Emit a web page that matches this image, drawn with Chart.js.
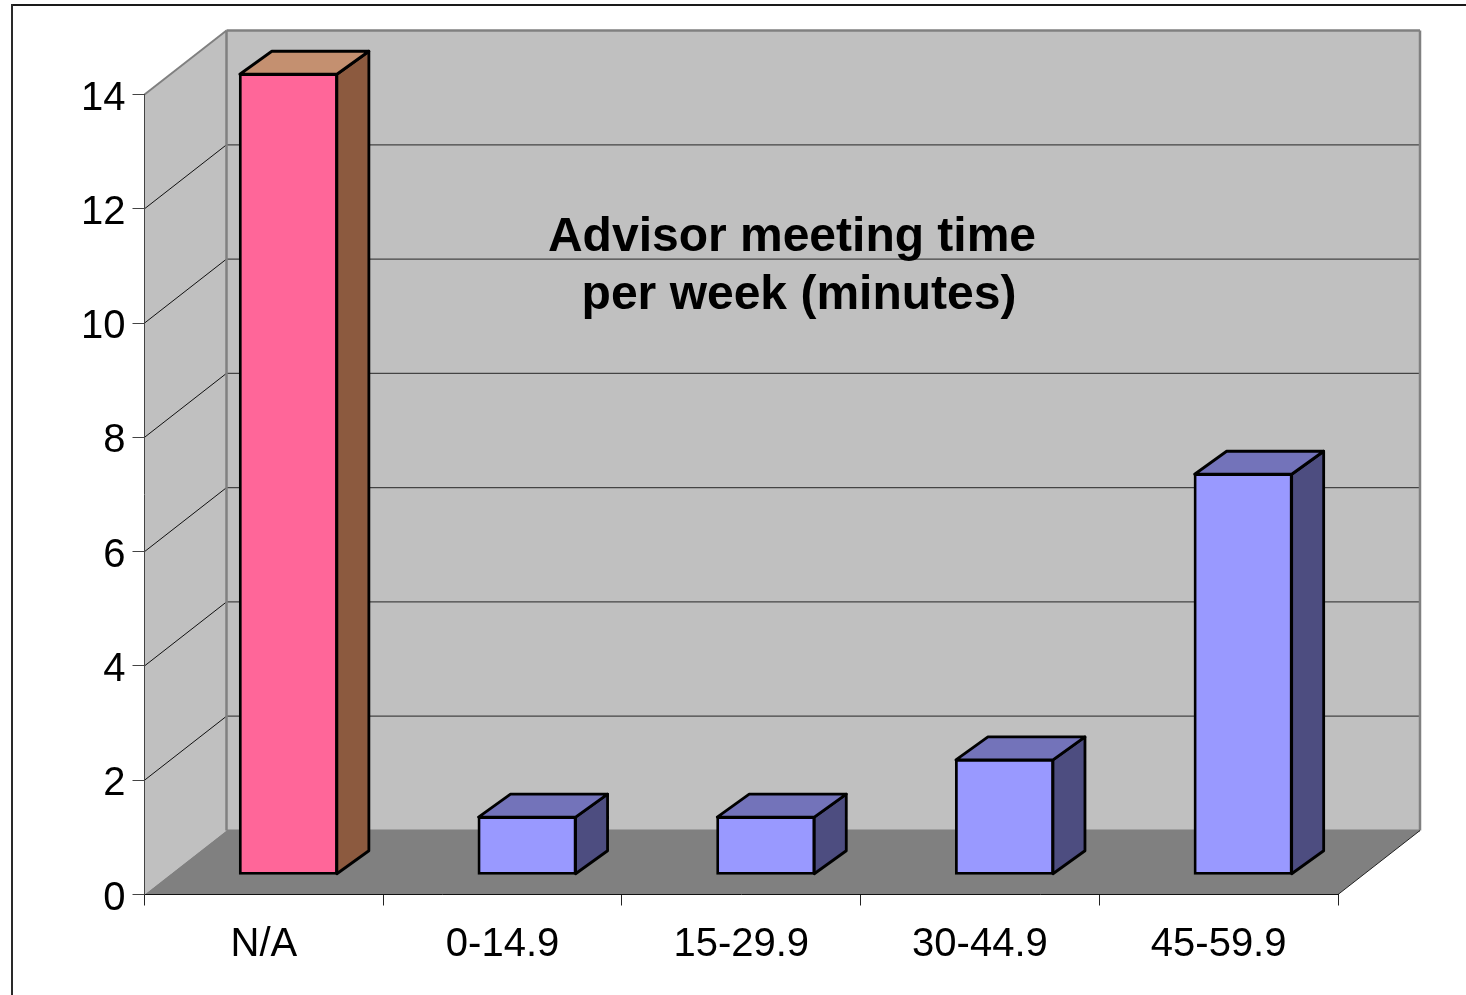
<!DOCTYPE html>
<html>
<head>
<meta charset="utf-8">
<title>Advisor meeting time per week (minutes)</title>
<style>
html,body{margin:0;padding:0;background:#fff;overflow:hidden}
canvas{display:block}
</style>
<script src="https://cdn.jsdelivr.net/npm/chart.js@4/dist/chart.umd.min.js"></script>
</head>
<body>
<canvas id="c" width="1466" height="995"></canvas>
<script>
const categories = ['N/A', '0-14.9', '15-29.9', '30-44.9', '45-59.9'];
const meetings = [14, 1, 1, 2, 7];
const yTicks = [0, 2, 4, 6, 8, 10, 12, 14];
const titleLines = ['Advisor meeting time', 'per week (minutes)'];

const frontColors = ['#FF6699', '#9999FF', '#9999FF', '#9999FF', '#9999FF'];
const sideColors  = ['#8C5A3F', '#4D4D80', '#4D4D80', '#4D4D80', '#4D4D80'];
const topColors   = ['#C49070', '#7373BA', '#7373BA', '#7373BA', '#7373BA'];

const WALL_DX = 82, WALL_DY = -64;   // depth of the plot box
const BAR_DX = 24.5, BAR_DY = -20.25; // bar position inside the box
const DEPTH_DX = 32, DEPTH_DY = -23; // depth of each bar
const Y_LABEL_SHIFT = 4;
const FONT = '"Liberation Sans", Arial, sans-serif';

function poly(ctx, pts, fill, stroke, lw) {
  ctx.beginPath();
  pts.forEach((p, i) => i ? ctx.lineTo(p[0], p[1]) : ctx.moveTo(p[0], p[1]));
  ctx.closePath();
  if (fill) { ctx.fillStyle = fill; ctx.fill(); }
  if (stroke) { ctx.strokeStyle = stroke; ctx.lineWidth = lw; ctx.stroke(); }
}
function line(ctx, x1, y1, x2, y2, color, lw) {
  ctx.beginPath();
  ctx.moveTo(x1, y1);
  ctx.lineTo(x2, y2);
  ctx.strokeStyle = color;
  ctx.lineWidth = lw;
  ctx.stroke();
}

const box3d = {
  id: 'box3d',
  afterLayout(chart) {
    const s = chart.scales.y, orig = s.drawLabels;
    s.drawLabels = function (area) {
      chart.ctx.save();
      chart.ctx.translate(0, Y_LABEL_SHIFT);
      orig.call(this, area);
      chart.ctx.restore();
    };
  },
  beforeDraw(chart) {
    const ctx = chart.ctx, a = chart.chartArea, ys = chart.scales.y;
    const L = a.left, R = a.right, T = a.top, B = a.bottom;
    const bx = WALL_DX, by = WALL_DY;
    ctx.save();
    ctx.lineJoin = 'miter';
    // outer slide frame
    line(ctx, 12, 5, 1466, 5, '#1a1a1a', 2);
    line(ctx, 12, 4, 12, 995, '#2a2a2a', 2);
    // side wall
    poly(ctx, [[L, T], [L + bx, T + by], [L + bx, B + by], [L, B]], '#C0C0C0');
    // back wall
    poly(ctx, [[L + bx, T + by], [R + bx, T + by], [R + bx, B + by], [L + bx, B + by]], '#C0C0C0');
    // floor
    poly(ctx, [[L, B], [L + bx, B + by], [R + bx, B + by], [R, B]], '#808080');
    // gridlines
    yTicks.forEach(v => {
      if (v === 0 || v === 14) return;
      const y = ys.getPixelForValue(v);
      line(ctx, L, y, L + bx, y + by, '#111', 1);
      line(ctx, L + bx, y + by, R + bx, y + by, '#444', 1.2);
    });
    // wall edges
    line(ctx, L, T, L + bx, T + by, '#808080', 2);
    line(ctx, L + bx, T + by, R + bx, T + by, '#808080', 2.5);
    line(ctx, R + bx, T + by, R + bx, B + by, '#808080', 2.5);
    line(ctx, L + bx, T + by, L + bx, B + by, '#808080', 2.5);
    line(ctx, L + bx, B + by, R + bx, B + by, '#808080', 2);
    line(ctx, R, B, R + bx, B + by, '#222', 1);
    ctx.restore();
  },
  beforeDatasetDraw(chart, args) {
    const ctx = chart.ctx;
    const bars = chart.getDatasetMeta(args.index).data;
    ctx.save();
    ctx.translate(BAR_DX, BAR_DY);
    ctx.lineJoin = 'round';
    bars.forEach((b, i) => {
      const l = b.x - b.width / 2, r = b.x + b.width / 2, t = b.y, base = b.base;
      poly(ctx, [[r, t], [r + DEPTH_DX, t + DEPTH_DY], [r + DEPTH_DX, base + DEPTH_DY], [r, base]], sideColors[i], '#000', 2.8);
      poly(ctx, [[l, t], [l + DEPTH_DX, t + DEPTH_DY], [r + DEPTH_DX, t + DEPTH_DY], [r, t]], topColors[i], '#000', 2.8);
    });
  },
  afterDatasetDraw(chart) {
    chart.ctx.restore();
  },
  afterDraw(chart) {
    const ctx = chart.ctx;
    ctx.save();
    ctx.fillStyle = '#000';
    ctx.font = 'bold 48px ' + FONT;
    ctx.textAlign = 'center';
    ctx.textBaseline = 'alphabetic';
    ctx.fillText(titleLines[0], 792, 251);
    ctx.fillText(titleLines[1], 799, 309);
    ctx.restore();
  }
};

new Chart(document.getElementById('c'), {
  type: 'bar',
  data: {
    labels: categories,
    datasets: [{
      data: meetings,
      backgroundColor: frontColors,
      borderColor: '#000',
      borderWidth: 2.8,
      borderSkipped: false,
      inflateAmount: 1,
      barPercentage: 97 / 238.6,
      categoryPercentage: 1,
      clip: false
    }]
  },
  options: {
    responsive: false,
    animation: false,
    layout: { padding: { left: 0, top: 94.5, right: 128, bottom: 0 } },
    plugins: { legend: { display: false }, title: { display: false }, tooltip: { enabled: false } },
    scales: {
      x: {
        afterFit(s) { s.height = 100.5; },
        grid: { drawOnChartArea: false, tickLength: 11, tickColor: '#222', tickWidth: 1 },
        border: { color: '#111', width: 1 },
        ticks: { color: '#000', font: { family: FONT, size: 40 }, padding: 15, maxRotation: 0, autoSkip: false }
      },
      y: {
        min: 0,
        max: 14,
        afterFit(s) { s.width = 144.5; },
        afterBuildTicks(s) { s.ticks = yTicks.map(v => ({ value: v })); },
        grid: { drawOnChartArea: false, tickLength: 12, tickColor: '#444', tickWidth: 1 },
        border: { color: '#444', width: 1 },
        ticks: { color: '#000', font: { family: FONT, size: 40 }, padding: 7 }
      }
    }
  },
  plugins: [box3d]
});
</script>
</body>
</html>
